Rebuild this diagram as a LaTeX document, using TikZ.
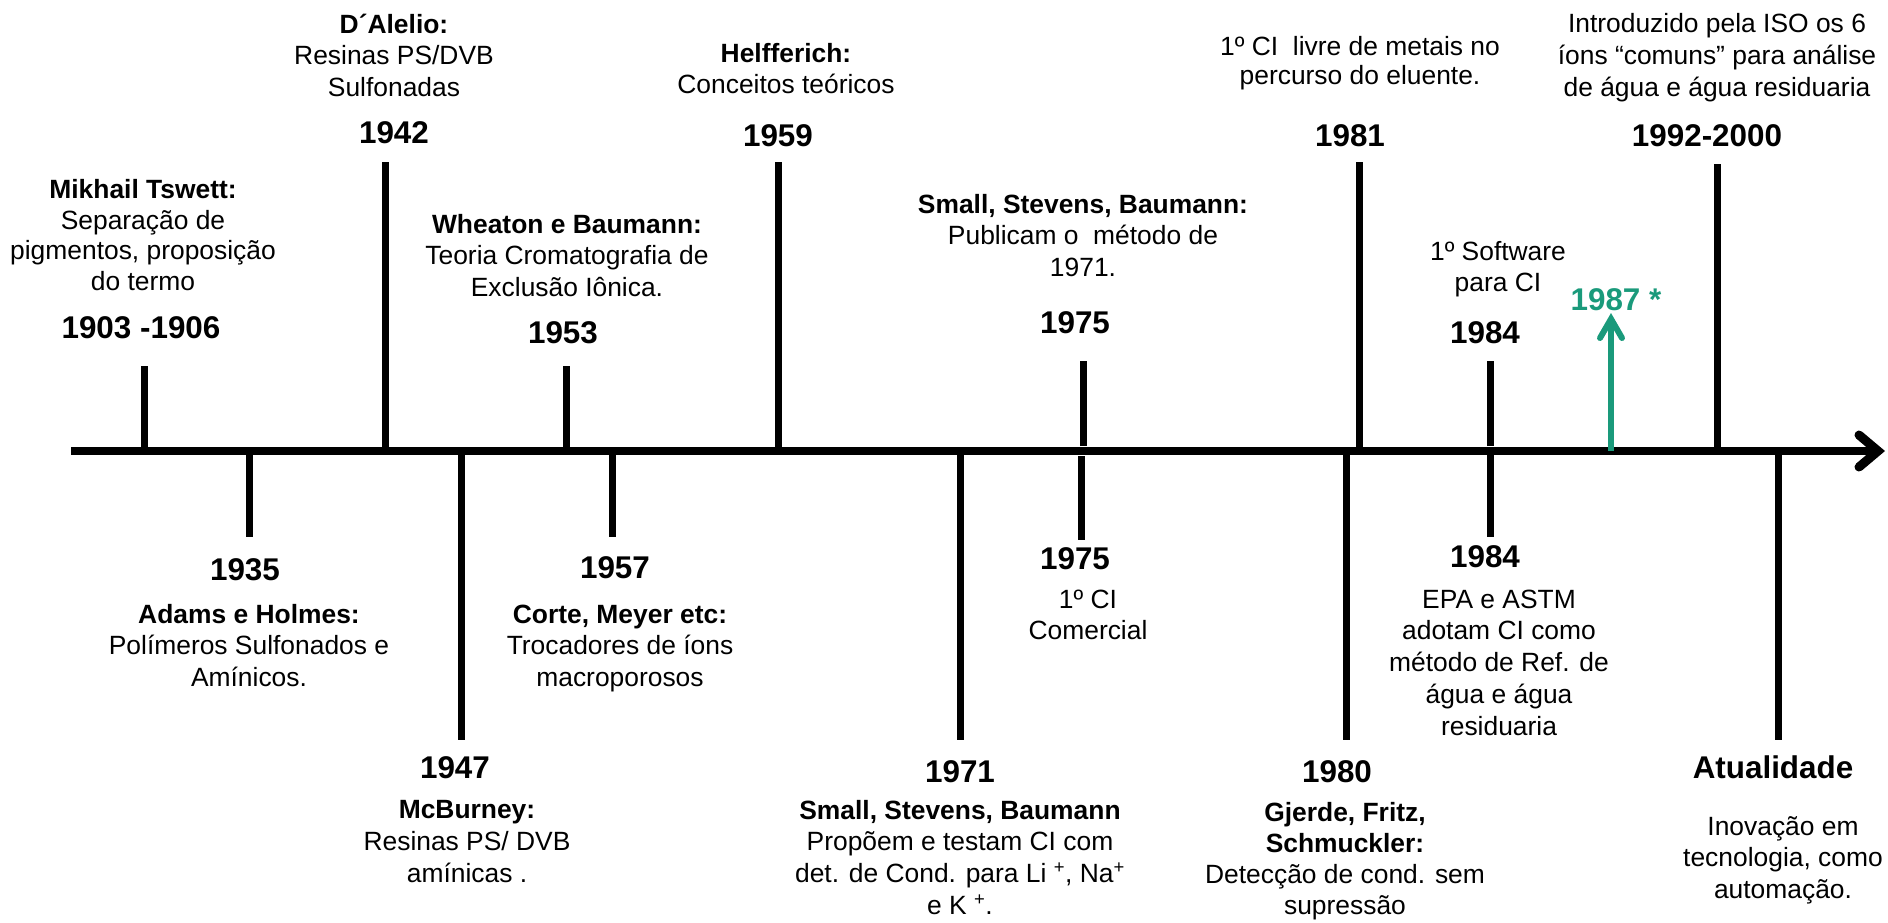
\documentclass[tikz,border=0pt]{standalone}
\usepackage{fontspec}
\setmainfont{Liberation Sans}
\definecolor{isogreen}{HTML}{1A9A7B}
\begin{document}
\begin{tikzpicture}[x=1pt,y=-1pt,
  yearlbl/.style={font=\fontsize{31.4}{36}\selectfont\bfseries, inner sep=0pt, anchor=base},
  desc/.style={font=\fontsize{26.4}{31.8}\selectfont, align=center, inner sep=0pt, anchor=base},
  tickline/.style={line width=7pt},
  axisline/.style={line width=8pt},
  chev/.style={line width=9pt, line cap=round, line join=miter},
  greenarrow/.style={line width=6pt, isogreen},
  greenchev/.style={line width=6pt, isogreen, line cap=round, line join=miter}
]
\useasboundingbox (0,0) rectangle (1888,922);

% axis
\coordinate (axstart) at (71,451);
\coordinate (axend) at (1878,451);
\coordinate (chevA) at (1859,435);
\coordinate (chevB) at (1859,467);
\draw[axisline] (axstart) -- (axend);
\draw[chev] (chevA) -- (axend) -- (chevB);

% (node base = baseline of the last line)
% ---------- top events ----------
% 1903-1906
\coordinate (a1903) at (144,451); \coordinate (t1903) at (144,366);
\draw[tickline] (a1903) -- (t1903);
\node[yearlbl] (y1903) at (141,338) {1903 -1906};
\node[desc,font=\fontsize{26.4}{30.5}\selectfont] (d1903) at (143,290) {\textbf{Mikhail Tswett:}\\Separação de\\pigmentos, proposição\\do termo};

% 1942
\coordinate (a1942) at (385,451); \coordinate (t1942) at (385,162);
\draw[tickline] (a1942) -- (t1942);
\node[yearlbl] (y1942) at (394,143) {1942};
\node[desc] (d1942) at (394,96.6) {\textbf{D´Alelio:}\\Resinas PS/DVB\\Sulfonadas};

% 1953
\coordinate (a1953) at (566,451); \coordinate (t1953) at (566,366);
\draw[tickline] (a1953) -- (t1953);
\node[yearlbl] (y1953) at (563,343) {1953};
\node[desc] (d1953) at (567,296.6) {\textbf{Wheaton e Baumann:}\\Teoria Cromatografia de\\Exclusão Iônica.};

% 1959
\coordinate (a1959) at (778,451); \coordinate (t1959) at (778,162);
\draw[tickline] (a1959) -- (t1959);
\node[yearlbl] (y1959) at (778,146) {1959};
\node[desc] (d1959) at (786,93.8) {\textbf{Helfferich:}\\Conceitos teóricos};

% 1975 top
\coordinate (a1975t) at (1083,446); \coordinate (t1975t) at (1083,361);
\draw[tickline] (a1975t) -- (t1975t);
\node[yearlbl] (y1975t) at (1075,333) {1975};
\node[desc] (d1975t) at (1083,276.6) {\textbf{Small, Stevens, Baumann:}\\Publicam o\ \ método de\\1971.};

% 1981
\coordinate (a1981) at (1359,451); \coordinate (t1981) at (1359,162);
\draw[tickline] (a1981) -- (t1981);
\node[yearlbl] (y1981) at (1350,146) {1981};
\node[desc,font=\fontsize{26.4}{29.5}\selectfont] (d1981) at (1360,84.5) {1º CI\ \ livre de metais no\\percurso do eluente.};

% 1984 top
\coordinate (a1984t) at (1490,446); \coordinate (t1984t) at (1490,361);
\draw[tickline] (a1984t) -- (t1984t);
\node[yearlbl] (y1984t) at (1485,343) {1984};
\node[desc] (d1984t) at (1498,291.8) {1º Software\\para CI};

% 1987 green arrow
\coordinate (a1987) at (1611,451); \coordinate (t1987) at (1611,319);
\coordinate (g1) at (1600,338); \coordinate (g2) at (1622,338);
\draw[greenarrow] (a1987) -- (t1987);
\draw[greenchev] (g1) -- (t1987) -- (g2);
\node[yearlbl,text=isogreen] (y1987) at (1616,310) {1987 *};

% 1992-2000
\coordinate (a1992) at (1717,451); \coordinate (t1992) at (1717,164);
\draw[tickline] (a1992) -- (t1992);
\node[yearlbl] (y1992) at (1707,146) {1992-2000};
\node[desc] (d1992) at (1717,96) {Introduzido pela ISO os 6\\íons “comuns” para análise\\de água e água residuaria};

% ---------- bottom events ----------
% 1935
\coordinate (a1935) at (249,451); \coordinate (b1935) at (249,537);
\draw[tickline] (a1935) -- (b1935);
\node[yearlbl] (y1935) at (245,580) {1935};
\node[desc] (d1935) at (249,686.6) {\textbf{Adams e Holmes:}\\Polímeros Sulfonados e\\Amínicos.};

% 1947
\coordinate (a1947) at (461,451); \coordinate (b1947) at (461,740);
\draw[tickline] (a1947) -- (b1947);
\node[yearlbl] (y1947) at (455,778) {1947};
\node[desc] (d1947) at (467,882) {\textbf{McBurney:}\\Resinas PS/ DVB\\amínicas .};

% 1957
\coordinate (a1957) at (612,451); \coordinate (b1957) at (612,537);
\draw[tickline] (a1957) -- (b1957);
\node[yearlbl] (y1957) at (615,578) {1957};
\node[desc] (d1957) at (620,686.6) {\textbf{Corte, Meyer etc:}\\Trocadores de íons\\macroporosos};

% 1971
\coordinate (a1971) at (960,451); \coordinate (b1971) at (960,740);
\draw[tickline] (a1971) -- (b1971);
\node[yearlbl] (y1971) at (960,782) {1971};
\node[desc] (d1971) at (960,914.4) {\textbf{Small, Stevens, Baumann}\\Propõem e testam CI com\\det. de Cond. para Li \textsuperscript{+}, Na\textsuperscript{+}\\e K \textsuperscript{+}.};

% 1975 bottom
\coordinate (a1975b) at (1081,456); \coordinate (b1975b) at (1081,540);
\draw[tickline] (a1975b) -- (b1975b);
\node[yearlbl] (y1975b) at (1075,569) {1975};
\node[desc] (d1975b) at (1088,639.8) {1º CI\\Comercial};

% 1980
\coordinate (a1980) at (1346,451); \coordinate (b1980) at (1346,740);
\draw[tickline] (a1980) -- (b1980);
\node[yearlbl] (y1980) at (1337,782) {1980};
\node[desc,font=\fontsize{26.4}{30.7}\selectfont] (d1980) at (1345,914) {\textbf{Gjerde, Fritz,}\\\textbf{Schmuckler:}\\Detecção de cond. sem\\supressão};

% 1984 bottom
\coordinate (a1984b) at (1490,451); \coordinate (b1984b) at (1490,537);
\draw[tickline] (a1984b) -- (b1984b);
\node[yearlbl] (y1984b) at (1485,567) {1984};
\node[desc] (d1984b) at (1499,735.2) {EPA e ASTM\\adotam CI como\\método de Ref. de\\água e água\\residuaria};

% Atualidade
\coordinate (aAtual) at (1778,451); \coordinate (bAtual) at (1778,740);
\draw[tickline] (aAtual) -- (bAtual);
\node[yearlbl] (yAtual) at (1773,778) {Atualidade};
\node[desc] (dAtual) at (1783,898.6) {Inovação em\\tecnologia, como\\automação.};
\end{tikzpicture}
\end{document}
